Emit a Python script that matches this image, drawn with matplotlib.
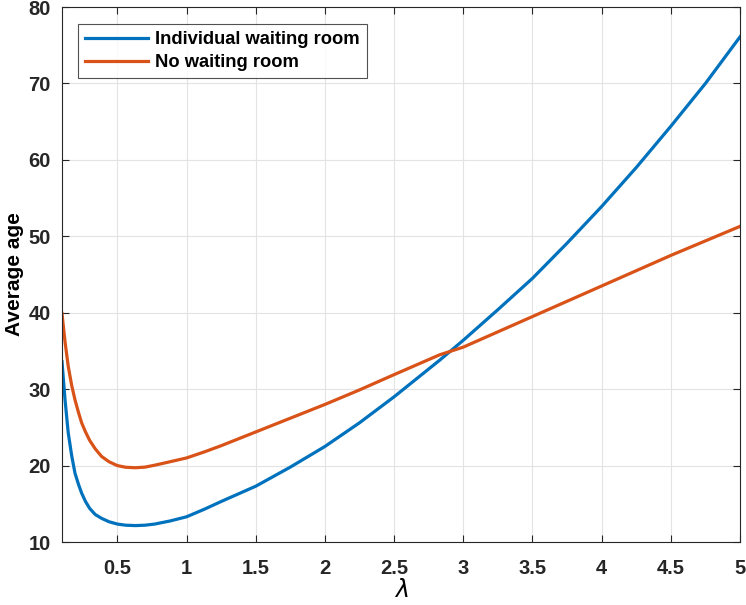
import numpy as np
import matplotlib
matplotlib.use("Agg")
import matplotlib.pyplot as plt

# values
lam = [0.10, 0.122, 0.145, 0.17, 0.194, 0.22, 0.242, 0.27, 0.30, 0.34, 0.386, 0.44, 0.50, 0.56, 0.63, 0.70, 0.77,
       0.88, 1.0, 1.13, 1.25, 1.5, 1.75, 2.0, 2.25, 2.5, 2.83, 3.0, 3.25, 3.5, 3.75, 4.0, 4.25, 4.5, 4.75, 5.0]
individual = [33.6, 28.6, 24.3, 21.3, 19.0, 17.5, 16.4, 15.3, 14.4, 13.6, 13.1, 12.65, 12.35, 12.2, 12.15, 12.2, 12.35,
              12.75, 13.3, 14.3, 15.3, 17.3, 19.8, 22.5, 25.6, 29.0, 33.8, 36.4, 40.4, 44.5, 49.1, 53.9, 59.0, 64.4, 70.0, 76.1]
no_room = [39.9, 36.2, 33.0, 30.5, 28.6, 26.9, 25.6, 24.4, 23.3, 22.2, 21.2, 20.5, 20.0, 19.78, 19.72, 19.8, 20.05,
           20.5, 21.0, 21.8, 22.6, 24.4, 26.2, 28.0, 29.9, 31.9, 34.5, 35.5, 37.5, 39.5, 41.5, 43.5, 45.5, 47.5, 49.4, 51.3]

xticks = [0.5, 1, 1.5, 2, 2.5, 3, 3.5, 4, 4.5, 5]
xticklabels = ['0.5', '1', '1.5', '2', '2.5', '3', '3.5', '4', '4.5', '5']
yticks = [10, 20, 30, 40, 50, 60, 70, 80]

plt.rcParams['font.family'] = ['Liberation Sans', 'DejaVu Sans']

fig = plt.figure(figsize=(7.46, 6.05), dpi=100)
ax = fig.add_axes([0.0831, 0.1041, 0.9089, 0.8843])

ax.plot(lam, individual, color='#0072BD', linewidth=2.3, label='Individual waiting room')
ax.plot(lam, no_room, color='#D95319', linewidth=2.3, label='No waiting room')

ax.set_xlim(0.1, 5)
ax.set_ylim(10, 80)
ax.set_xticks(xticks)
ax.set_xticklabels(xticklabels)
ax.set_yticks(yticks)

ax.grid(True, color='#e3e3e3', linewidth=0.8)
ax.set_axisbelow(True)
for s in ax.spines.values():
    s.set_color('#262626')
    s.set_linewidth(0.8)
ax.tick_params(direction='in', length=5, width=0.8, top=True, right=True, colors='#262626',
               labelsize=14.5)
ax.tick_params(axis='x', pad=12)
ax.tick_params(axis='y', pad=8)
for lab in ax.get_xticklabels() + ax.get_yticklabels():
    lab.set_fontweight('bold')

ax.set_xlabel(r'$\lambda$', fontsize=17, labelpad=1)
ax.set_ylabel('Average age', fontsize=15, fontweight='bold', labelpad=3)

leg = ax.legend(loc='upper left', bbox_to_anchor=(0.0235, 0.968), frameon=True, fancybox=False,
                edgecolor='#262626', handlelength=3.4, handletextpad=0.4, borderpad=0.4,
                borderaxespad=0, labelspacing=0.3, prop={'size': 13.2, 'weight': 'bold'})
leg.get_frame().set_linewidth(0.8)

fig.savefig('out.png', dpi=100)
